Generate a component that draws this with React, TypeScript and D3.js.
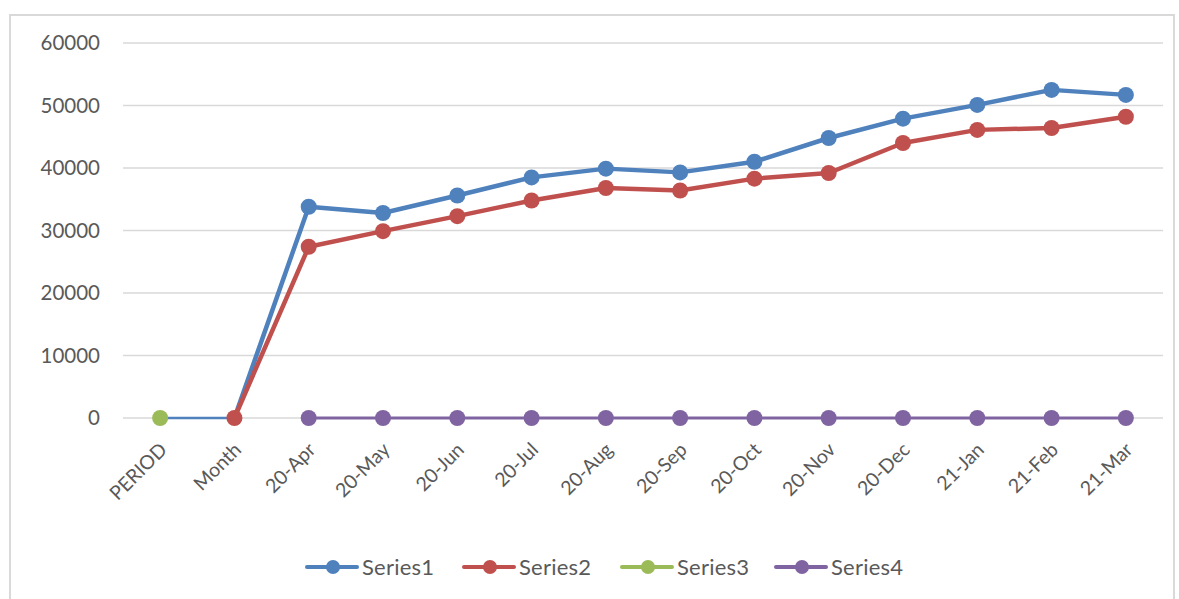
import React, { useEffect, useRef } from 'react';
import * as d3 from 'd3';

const categories = ['PERIOD', 'Month', '20-Apr', '20-May', '20-Jun', '20-Jul', '20-Aug', '20-Sep', '20-Oct', '20-Nov', '20-Dec', '21-Jan', '21-Feb', '21-Mar'];

const series1 = [0, 0, 33800, 32800, 35600, 38500, 39900, 39300, 41000, 44800, 47900, 50100, 52500, 51700];
const series2 = [null, 0, 27400, 29900, 32300, 34800, 36800, 36400, 38300, 39200, 44000, 46100, 46400, 48200];
const series3 = [0, null, null, null, null, null, null, null, null, null, null, null, null, null];
const series4 = [null, null, 0, 0, 0, 0, 0, 0, 0, 0, 0, 0, 0, 0];

const yTicks = [0, 10000, 20000, 30000, 40000, 50000, 60000];

const seriesNames = ['Series1', 'Series2', 'Series3', 'Series4'];
const colors = ['#4f81bd', '#c0504d', '#9bbb59', '#8064a2'];

export default function App() {
  const ref = useRef<SVGSVGElement>(null);

  useEffect(() => {
    const width = 1179;
    const height = 599;
    const svg = d3.select(ref.current);
    svg.selectAll('*').remove();
    const font = 'Lato, "Open Sans", sans-serif';

    svg.append('rect')
      .attr('x', 10).attr('y', 15)
      .attr('width', 1164).attr('height', 600)
      .attr('fill', '#fff')
      .attr('stroke', '#d9d9d9')
      .attr('stroke-width', 2);

    const x = d3.scalePoint().domain(categories).range([123, 1163]).padding(0.5);
    const y = d3.scaleLinear().domain([0, 60000]).range([418, 43]);

    // grid
    svg.append('g')
      .selectAll('line')
      .data(yTicks)
      .join('line')
      .attr('x1', 123).attr('x2', 1163)
      .attr('y1', d => y(d)).attr('y2', d => y(d))
      .attr('stroke', '#d9d9d9')
      .attr('stroke-width', 1.5);

    svg.append('g')
      .selectAll('text')
      .data(yTicks)
      .join('text')
      .attr('x', 100)
      .attr('y', d => y(d))
      .attr('dy', '0.35em')
      .attr('text-anchor', 'end')
      .attr('font-family', font)
      .attr('font-size', 20.5)
      .attr('fill', '#595959')
      .text(d => d);

    svg.append('g')
      .selectAll('text')
      .data(categories)
      .join('text')
      .attr('transform', d => `translate(${(x(d) as number) + 8},${451}) rotate(-45)`)
      .attr('text-anchor', 'end')
      .attr('font-family', font)
      .attr('font-size', 19.5)
      .attr('fill', '#595959')
      .text(d => d);

    const all = [series1, series2, series3, series4];
    const line = d3.line<any>()
      .defined(d => d.v !== null)
      .x(d => x(d.c) as number)
      .y(d => y(d.v));

    all.forEach((s, i) => {
      const pts = s.map((v, j) => ({ c: categories[j], v, j }));
      const g = svg.append('g');
      if (i === 0) {
        // first segment is drawn thinner in the reference
        g.append('path')
          .attr('d', line(pts.slice(0, 2)))
          .attr('fill', 'none')
          .attr('stroke', colors[i])
          .attr('stroke-width', 2.5);
        g.append('path')
          .attr('d', line(pts.slice(1)))
          .attr('fill', 'none')
          .attr('stroke', colors[i])
          .attr('stroke-width', 4.5)
          .attr('stroke-linejoin', 'round');
      } else {
        g.append('path')
          .attr('d', line(pts))
          .attr('fill', 'none')
          .attr('stroke', colors[i])
          .attr('stroke-width', i === 3 ? 3 : 4.5)
          .attr('stroke-linejoin', 'round');
      }
      g.selectAll('circle')
        .data(pts.filter(p => p.v !== null && !(i === 0 && p.j < 2)))
        .join('circle')
        .attr('cx', d => x(d.c) as number)
        .attr('cy', d => y(d.v as number))
        .attr('r', 8)
        .attr('fill', colors[i]);
    });

    // legend
    const legendX = [307, 464, 622, 776];
    const ly = 567;
    const lg = svg.append('g');
    seriesNames.forEach((name, i) => {
      lg.append('line')
        .attr('x1', legendX[i]).attr('x2', legendX[i] + 50)
        .attr('y1', ly).attr('y2', ly)
        .attr('stroke', colors[i])
        .attr('stroke-width', 4)
        .attr('stroke-linecap', 'round');
      lg.append('circle')
        .attr('cx', legendX[i] + 26).attr('cy', ly)
        .attr('r', 7)
        .attr('fill', colors[i]);
      lg.append('text')
        .attr('x', legendX[i] + 55)
        .attr('y', ly)
        .attr('dy', '0.35em')
        .attr('font-family', font)
        .attr('font-size', 22)
        .attr('textLength', 72)
        .attr('fill', '#595959')
        .text(name);
    });

    svg.attr('width', width).attr('height', height);
  }, []);

  return (
    <svg ref={ref} width={1179} height={599} style={{ position: 'absolute', left: 0, top: 0 }} />
  );
}
